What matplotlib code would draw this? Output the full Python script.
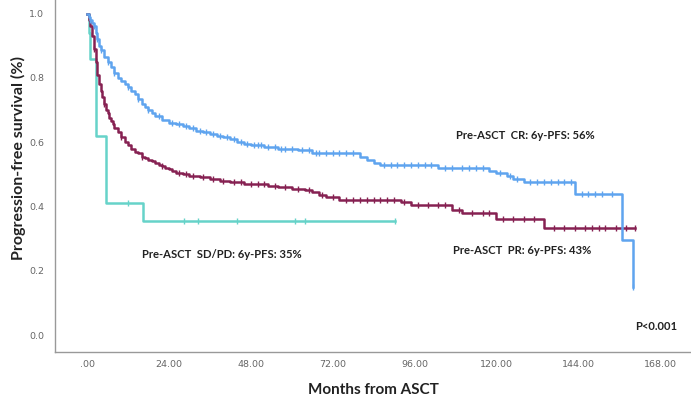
"""
    plot.py

    Kaplan-Meier style PFS curves by pre-ASCT response
"""

from matplotlib import pyplot as plt
import numpy as np

# complete response
cr_t = [0, 0.5, 1, 1.5, 2, 2.5, 3, 3.5, 4, 5, 6, 7, 8, 9, 10, 11, 12, 13, 14, 15, 16, 17, 18, 19, 20,
        22, 24, 26, 28, 30, 32, 34, 36, 38, 40, 42, 44, 46, 48, 52, 56, 62, 66, 80, 82, 84, 86,
        103, 118, 120, 123, 125, 128, 143, 157, 160]
cr_s = [1.0, 0.99, 0.98, 0.97, 0.96, 0.94, 0.92, 0.90, 0.885, 0.865, 0.85, 0.835, 0.815, 0.80, 0.79,
        0.78, 0.77, 0.76, 0.75, 0.735, 0.72, 0.71, 0.70, 0.69, 0.68,
        0.67, 0.66, 0.655, 0.65, 0.645, 0.635, 0.63, 0.625, 0.62, 0.615, 0.61, 0.60, 0.595, 0.59,
        0.585, 0.58, 0.575, 0.565, 0.555, 0.545, 0.535, 0.53,
        0.52, 0.51, 0.505, 0.495, 0.485, 0.475, 0.44, 0.295, 0.15]
cr_cens = [1, 2, 3, 4, 6, 8, 12, 15, 18, 21, 25, 27, 29, 31, 33, 35, 37, 39, 41, 43, 45, 47, 49, 50,
           51, 53, 55, 57, 58, 60, 63, 65, 67, 68, 70, 72, 74, 76, 78, 87, 89, 91, 93, 95, 97, 99,
           101, 105, 107, 110, 112, 114, 116, 121, 124, 126, 130, 132, 134, 136, 138, 140, 142,
           145, 147, 149, 151, 154]
cr_end = 160

# partial response
pr_t = [0, 0.5, 1, 1.5, 2, 2.5, 3, 3.5, 4, 4.5, 5, 5.5, 6, 6.5, 7, 7.5, 8,
        9, 10, 11, 12, 13, 14, 15, 16, 17, 18, 19, 20, 21, 22, 23, 24, 25, 26,
        28, 30, 33, 36, 39, 42, 46, 53, 56, 60, 64, 66, 68, 70, 74, 92, 95, 107, 110, 120, 134]
pr_s = [1.0, 0.98, 0.96, 0.93, 0.89, 0.85, 0.81, 0.78, 0.76, 0.74, 0.72, 0.70, 0.69, 0.675, 0.665,
        0.655, 0.645,
        0.63, 0.615, 0.60, 0.59, 0.58, 0.57, 0.565, 0.555, 0.55, 0.545, 0.54, 0.535, 0.53, 0.525,
        0.52, 0.515, 0.51, 0.505,
        0.50, 0.495, 0.49, 0.485, 0.48, 0.475, 0.47, 0.465, 0.46, 0.455, 0.45, 0.445, 0.435, 0.43,
        0.42, 0.415, 0.405, 0.39, 0.38, 0.36, 0.333]
pr_cens = [2, 5, 10, 16, 22, 27, 29, 31, 34, 37, 40, 43, 45, 48, 50, 52, 55, 58, 62, 65, 69, 72, 76,
           78, 80, 82, 84, 86, 88, 90, 93, 97, 100, 103, 105, 109, 113, 116, 118, 122, 125, 128,
           131, 137, 140, 143, 146, 148, 150, 152, 155, 158]
pr_end = 160.7

# stable / progressive disease
sd_t = [0, 0.5, 1.0, 2.6, 5.6, 16.4]
sd_s = [1.0, 0.94, 0.86, 0.62, 0.41, 0.355]
sd_cens = [12, 28.5, 32.5, 44, 61, 64]
sd_end = 90.3

xticks = [0, 24, 48, 72, 96, 120, 144, 168]
xticklabels = ['.00', '24.00', '48.00', '72.00', '96.00', '120.00', '144.00', '168.00']
yticks = [0.0, 0.2, 0.4, 0.6, 0.8, 1.0]


def km(ax, t, s, cens, end, color):
    t = np.append(t, end)
    s = np.append(s, s[-1])
    ax.step(t, s, where='post', color=color, lw=1.8)
    cens = np.append(cens, end)
    idx = np.searchsorted(t, cens, side='right') - 1
    ax.plot(cens, s[idx], ls='none', marker='|', ms=5, mew=1.0, color=color)


fig = plt.figure(figsize=(6.91, 3.96), dpi=100)
ax = fig.add_axes([0.0796, 0.111, 0.9204, 0.889])

km(ax, sd_t, sd_s, sd_cens, sd_end, '#66d3c9')
km(ax, pr_t, pr_s, pr_cens, pr_end, '#862152')
km(ax, cr_t, cr_s, cr_cens, cr_end, '#5fa4ef')

ax.set_xlim(-9.4, 177.1)
ax.set_ylim(-0.053, 1.042)

ax.set_xticks(xticks)
ax.set_xticklabels(xticklabels)
ax.set_yticks(yticks)
ax.set_yticklabels(['%.1f' % y for y in yticks])
ax.tick_params(length=0, labelsize=6.8, labelcolor='#666666')
ax.tick_params(axis='y', pad=8)
ax.tick_params(axis='x', pad=6)

for side in ['top', 'right']:
    ax.spines[side].set_visible(False)
for side in ['left', 'bottom']:
    ax.spines[side].set_color('#999999')
    ax.spines[side].set_linewidth(1.0)

tkw = dict(fontsize=8.1, fontweight='bold', color='#222222', family='Lato', va='center')
ax.text(108.2, 0.619, 'Pre-ASCT  CR: 6y-PFS: 56%', **tkw)
ax.text(107.3, 0.264, 'Pre-ASCT  PR: 6y-PFS: 43%', **tkw)
ax.text(16.1, 0.249, 'Pre-ASCT  SD/PD: 6y-PFS: 35%', **tkw)
ax.text(160.7, 0.025, 'P<0.001', **tkw)

ax.set_xlabel('Months from ASCT', fontsize=11, fontweight='bold', family='Lato', color='#222222')
ax.set_ylabel('Progression-free survival (%)', fontsize=11.5, fontweight='bold', family='Lato',
              color='#222222')
ax.xaxis.set_label_coords(0.5, -0.088)
ax.yaxis.set_label_coords(-0.045, 0.55)

fig.savefig('out.png', dpi=100)
